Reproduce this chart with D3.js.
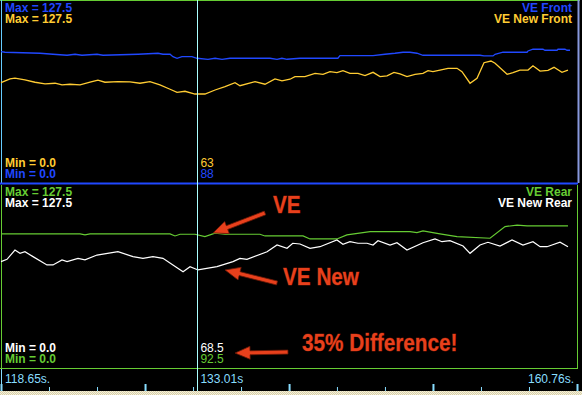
<!DOCTYPE html>
<html>
<head>
<meta charset="utf-8">
<style>
    body { margin: 0; background: #000; }
    svg { display: block; }
    .lbl { font-family: 'Liberation Sans', Arial, sans-serif; font-size: 12px; font-weight: bold; }
    .val { font-family: 'Liberation Sans', Arial, sans-serif; font-size: 12px; }
    .axis-label { font-family: 'Liberation Sans', Arial, sans-serif; font-size: 12px; fill: #88ddff; }
    .note { font-family: 'Liberation Sans Narrow', 'Arial Narrow', 'Liberation Sans', sans-serif; font-size: 23px; font-weight: bold;
            fill: #e8401c; stroke: #5a1404; stroke-width: 0.8; paint-order: stroke; }
    .axis .domain { display: none; }
    .axis .tick text { display: none; }
    .axis .tick line { stroke: #88ddff; }
</style>
</head>
<body>
<svg width="582" height="395"></svg>

<script src="https://d3js.org/d3.v7.min.js"></script>
<script>
    let width = 582;
    let height = 395;

    // time window (s) and cursor
    let timeRange = [118.65, 160.76];
    let cursorTime = 133.01;

    // [time s, value]
    let veFront = [
        [118.65, 92.2], [118.94, 91.8], [121.50, 91.1], [122.45, 90.4], [123.48, 89.7], [124.06, 90.4],
        [124.57, 89.7], [125.67, 90.4], [126.11, 89.7], [128.67, 90.4], [130.13, 91.1], [130.49, 90.4],
        [131.01, 90.4], [131.22, 88.7], [131.52, 87.6], [131.88, 88.7], [132.61, 88.7], [132.98, 87.6],
        [133.78, 86.9], [134.30, 87.6], [134.81, 86.9], [135.39, 87.6], [138.32, 87.6], [138.83, 86.9],
        [139.19, 87.6], [139.56, 86.9], [140.51, 87.6], [143.28, 87.6], [143.43, 89.4], [145.85, 89.4],
        [146.72, 90.4], [147.45, 91.1], [148.04, 91.8], [148.55, 91.8], [149.06, 91.1], [149.50, 89.7],
        [153.67, 89.7], [153.96, 89.2], [154.62, 89.2], [154.77, 90.4], [155.35, 91.8], [157.11, 91.8],
        [157.18, 92.7], [157.54, 93.9], [158.27, 93.9], [158.42, 93.2], [159.30, 93.2], [159.37, 93.9],
        [159.88, 93.9], [160.03, 93.2], [160.25, 93.2]
    ];

    let veNewFront = [
        [118.65, 70.6], [119.31, 73.2], [119.67, 73.7], [120.40, 72.5], [121.14, 70.9], [121.87, 69.7],
        [122.60, 70.2], [123.11, 69.0], [123.69, 69.5], [124.43, 69.0], [125.16, 70.9], [125.74, 72.3],
        [126.25, 70.9], [127.20, 71.3], [128.08, 71.1], [128.81, 70.2], [129.54, 71.3], [130.27, 69.0],
        [131.01, 66.0], [131.52, 63.9], [132.10, 64.6], [132.83, 62.7], [133.56, 62.7], [134.30, 65.5],
        [135.03, 67.8], [135.76, 70.6], [136.12, 68.5], [137.22, 71.3], [137.95, 69.5], [138.68, 73.2],
        [139.19, 71.8], [139.78, 73.0], [140.14, 74.8], [140.87, 74.8], [141.61, 77.1], [142.19, 76.4],
        [142.70, 78.3], [143.21, 77.6], [143.65, 79.0], [144.16, 77.1], [144.75, 77.1], [145.26, 75.5],
        [145.85, 77.8], [146.36, 74.8], [146.87, 75.3], [147.38, 77.8], [147.82, 76.7], [148.33, 74.8],
        [148.92, 76.4], [149.50, 77.1], [149.87, 79.0], [150.23, 78.3], [150.74, 79.4], [151.33, 80.6],
        [151.99, 80.6], [152.35, 78.3], [152.94, 70.2], [153.45, 73.7], [153.96, 84.5], [154.47, 85.7],
        [154.77, 84.1], [155.65, 76.4], [156.08, 77.6], [156.59, 79.4], [157.18, 79.4], [157.54, 82.4],
        [158.06, 78.7], [158.64, 79.2], [159.08, 81.3], [159.66, 77.8], [160.10, 79.4]
    ];

    let veRear = [
        [118.65, 94.1], [124.43, 94.1], [124.79, 93.4], [125.16, 94.1], [131.01, 94.1], [131.37, 92.7],
        [131.74, 93.9], [132.83, 93.9], [133.56, 92.2], [134.30, 94.6], [135.03, 93.9], [137.58, 93.9],
        [137.95, 92.7], [140.73, 92.7], [141.24, 90.6], [143.21, 90.6], [143.94, 93.4], [145.63, 95.7],
        [148.55, 95.7], [149.06, 95.0], [149.50, 96.2], [150.74, 94.1], [151.99, 92.2], [154.40, 91.1],
        [155.50, 99.2], [156.38, 100.3], [157.11, 99.7], [160.10, 99.7]
    ];

    let veNewRear = [
        [118.65, 74.8], [119.09, 76.4], [119.67, 82.9], [120.04, 80.6], [120.40, 81.7], [120.99, 78.3],
        [122.01, 72.5], [122.45, 72.5], [123.11, 76.0], [123.48, 74.8], [124.28, 77.1], [124.79, 76.0],
        [125.67, 79.4], [127.20, 81.7], [128.30, 78.3], [129.03, 77.1], [129.76, 78.3], [130.49, 77.1],
        [131.22, 72.5], [131.96, 67.8], [132.47, 71.3], [133.05, 69.0], [134.44, 71.3], [135.61, 74.8],
        [136.12, 77.1], [136.63, 76.4], [138.10, 81.7], [138.83, 86.4], [139.56, 84.1], [139.98, 87.6],
        [140.51, 87.1], [141.24, 84.1], [141.97, 85.2], [143.21, 89.9], [143.65, 86.9], [144.16, 88.7],
        [144.75, 87.6], [145.41, 87.6], [145.85, 86.4], [146.21, 89.4], [147.09, 86.4], [147.60, 88.0],
        [148.33, 82.9], [149.50, 88.0], [150.38, 90.6], [150.89, 88.7], [151.47, 89.4], [152.43, 85.7],
        [152.94, 80.6], [153.67, 86.4], [154.25, 88.3], [155.13, 85.7], [156.01, 89.9], [156.81, 86.4],
        [157.54, 88.7], [158.06, 85.2], [158.57, 85.2], [159.52, 88.3], [160.10, 85.2]
    ];

    let channelNames = ["VE Front", "VE New Front", "VE Rear", "VE New Rear"];
    let channelColors = ["#2048ff", "#ffcc33", "#66cc33", "#ffffff"];
    let cursorValues = ["88", "63", "92.5", "68.5"];
    let maxLabel = "Max = 127.5";
    let minLabel = "Min = 0.0";
    let yDomain = [0, 127.5];

    let tickTimes = [118.65, 122.16, 125.67, 129.18, 132.69, 136.20, 139.71, 143.21, 146.72, 150.23, 153.74, 157.25, 160.76];
    let majorTickTimes = [118.65, 129.18, 139.71, 150.23, 160.76];
    let axisLabels = [["118.65s.", 118.65], ["133.01s", 133.01], ["160.76s.", 160.76]];

    // annotations, in bottom-panel data coords: [text, time, value]
    let notes = [["VE", 138.54, 108.7], ["VE New", 139.27, 58.5], ["35% Difference!", 140.66, 12.5]];
    // arrows: [fromTime, fromValue, toTime, toValue]
    let arrows = [
        [137.95, 108.7, 134.15, 94.8],
        [138.83, 59.9, 135.03, 69.0],
        [139.63, 11.8, 135.76, 11.1]
    ];

    let svg = d3.select("svg");

    svg.append("rect").attr("width", width).attr("height", height).attr("fill", "#000");

    let x = d3.scaleLinear().domain(timeRange).range([1, 577]);
    let yTop = d3.scaleLinear().domain(yDomain).range([184, 1]);
    let yBot = d3.scaleLinear().domain(yDomain).range([369, 186]);

    // frame lines
    svg.append("line").attr("x1", 0).attr("x2", 580).attr("y1", 0.5).attr("y2", 0.5).attr("stroke", "#66cc33");
    svg.append("line").attr("x1", 1.5).attr("x2", 1.5).attr("y1", 0).attr("y2", 183).attr("stroke", "#66ccff");
    svg.append("line").attr("x1", 1.5).attr("x2", 1.5).attr("y1", 185).attr("y2", 368).attr("stroke", "#66cc33");
    svg.append("line").attr("x1", 1.5).attr("x2", 1.5).attr("y1", 369).attr("y2", 391).attr("stroke", "#88ddff");
    svg.append("line").attr("x1", 578.5).attr("x2", 578.5).attr("y1", 0).attr("y2", 183).attr("stroke", "#8899dd").attr("stroke-width", 2);
    svg.append("line").attr("x1", 577.5).attr("x2", 577.5).attr("y1", 185).attr("y2", 368).attr("stroke", "#66cc33");
    svg.append("line").attr("x1", 0).attr("x2", 578).attr("y1", 183.5).attr("y2", 183.5).attr("stroke", "#2048ff").attr("stroke-width", 2);
    svg.append("line").attr("x1", 0).attr("x2", 578).attr("y1", 368.5).attr("y2", 368.5).attr("stroke", "#66cc33");

    // bottom window border strip
    let defs = svg.append("defs");
    let pat = defs.append("pattern").attr("id", "dots").attr("width", 2).attr("height", 2).attr("patternUnits", "userSpaceOnUse");
    pat.append("rect").attr("width", 2).attr("height", 2).attr("fill", "#f4f0dc");
    pat.append("rect").attr("width", 1).attr("height", 1).attr("fill", "#d8d0a8");
    pat.append("rect").attr("x", 1).attr("y", 1).attr("width", 1).attr("height", 1).attr("fill", "#d8d0a8");
    svg.append("rect").attr("x", 0).attr("y", 391).attr("width", width).attr("height", 4).attr("fill", "url(#dots)");

    // series
    let lineTop = d3.line().x(d => x(d[0])).y(d => yTop(d[1]));
    let lineBot = d3.line().x(d => x(d[0])).y(d => yBot(d[1]));

    let topSeries = [veFront, veNewFront];
    let botSeries = [veRear, veNewRear];

    svg.append("g").selectAll("path")
        .data(topSeries)
        .join("path")
        .attr("d", lineTop)
        .attr("fill", "none")
        .attr("stroke", (d, i) => channelColors[i])
        .attr("stroke-width", 1.3);

    svg.append("g").selectAll("path")
        .data(botSeries)
        .join("path")
        .attr("d", lineBot)
        .attr("fill", "none")
        .attr("stroke", (d, i) => channelColors[i + 2])
        .attr("stroke-width", 1.2);

    // cursor
    svg.append("line")
        .attr("x1", Math.round(x(cursorTime)) + 0.5).attr("x2", Math.round(x(cursorTime)) + 0.5)
        .attr("y1", 0).attr("y2", 391)
        .attr("stroke", "#aaffff");

    // panel labels
    // top: blue first then yellow; bottom: green first then white
    let panelOrder = [[0, 1], [2, 3]];
    let panelTops = [12, 196];
    let panelMins = [167, 352];

    panelOrder.forEach((pair, p) => {
        pair.forEach((ci, k) => {
            svg.append("text").attr("class", "lbl")
                .attr("x", 5).attr("y", panelTops[p] + k * 11)
                .attr("fill", channelColors[ci]).text(maxLabel);
            svg.append("text").attr("class", "lbl")
                .attr("x", 572).attr("y", panelTops[p] + k * 11)
                .attr("text-anchor", "end")
                .attr("fill", channelColors[ci]).text(channelNames[ci]);
        });
        // min labels: reversed order
        [pair[1], pair[0]].forEach((ci, k) => {
            svg.append("text").attr("class", "lbl")
                .attr("x", 5).attr("y", panelMins[p] + k * 11)
                .attr("fill", channelColors[ci]).text(minLabel);
            svg.append("text").attr("class", "val")
                .attr("x", x(cursorTime) + 3).attr("y", panelMins[p] + k * 11)
                .attr("fill", channelColors[ci]).text(cursorValues[ci]);
        });
    });

    // time axis ticks
    svg.append("g").attr("class", "axis")
        .attr("transform", "translate(0,391)")
        .call(d3.axisTop(x).tickValues(tickTimes).tickSize(4).tickFormat(""));
    svg.append("g").attr("class", "axis")
        .attr("transform", "translate(0,391)")
        .call(d3.axisTop(x).tickValues(majorTickTimes).tickSize(7).tickFormat(""))
        .call(g => g.selectAll(".tick line").attr("stroke-width", 2));

    axisLabels.forEach((a, i) => {
        svg.append("text").attr("class", "axis-label")
            .attr("x", i === 2 ? x(a[1]) - 3 : (i === 0 ? 5 : x(a[1]) + 3))
            .attr("y", 383)
            .attr("text-anchor", i === 2 ? "end" : "start")
            .text(a[0]);
    });

    // annotations (condensed bold, like the original's narrow face)
    svg.append("g").selectAll("text")
        .data(notes)
        .join("text")
        .attr("class", "note")
        .attr("transform", d => `translate(${x(d[1])},${yBot(d[2])}) scale(0.9,1)`)
        .text(d => d[0]);

    function arrowPath(a) {
        let x0 = x(a[0]), y0 = yBot(a[1]), x1 = x(a[2]), y1 = yBot(a[3]);
        let dx = x1 - x0, dy = y1 - y0;
        let len = Math.sqrt(dx * dx + dy * dy);
        let ux = dx / len, uy = dy / len, nx = -uy, ny = ux;
        let head = 15, hw = 6.5, sw = 2;
        let bx = x1 - ux * head, by = y1 - uy * head;
        let pts = [
            [x0 + nx * sw, y0 + ny * sw],
            [bx + nx * sw, by + ny * sw],
            [bx + nx * hw, by + ny * hw],
            [x1, y1],
            [bx - nx * hw, by - ny * hw],
            [bx - nx * sw, by - ny * sw],
            [x0 - nx * sw, y0 - ny * sw]
        ];
        return "M" + pts.map(p => p.join(",")).join("L") + "Z";
    }

    svg.append("g").selectAll("path")
        .data(arrows)
        .join("path")
        .attr("d", arrowPath)
        .attr("fill", "#e8401c")
        .attr("stroke", "#6a1806")
        .attr("stroke-width", 0.8);
</script>
</body>
</html>
